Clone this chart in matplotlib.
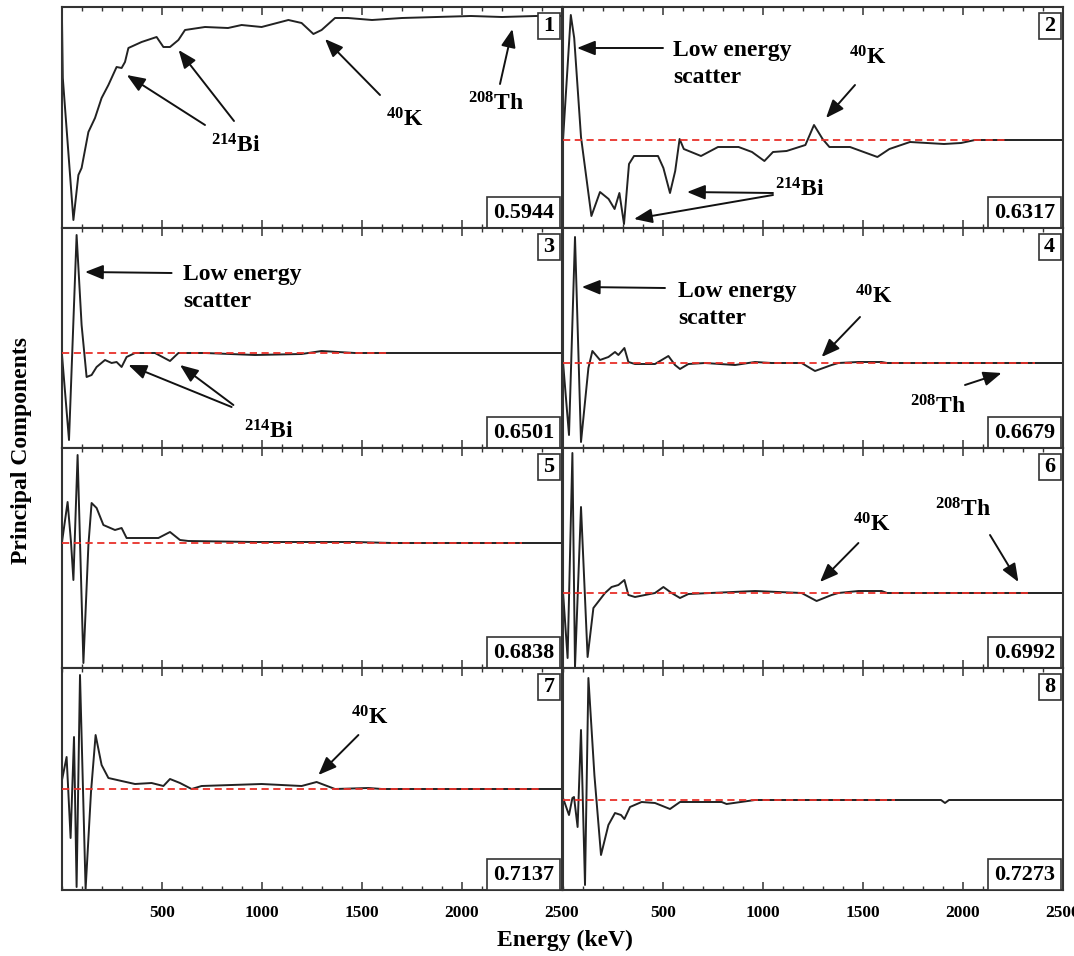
import matplotlib
matplotlib.use("Agg")
import matplotlib.pyplot as plt
from matplotlib.patches import Rectangle
from matplotlib.ticker import MultipleLocator

plt.rcParams['font.family'] = 'Liberation Serif'
plt.rcParams['font.weight'] = 'bold'
plt.rcParams['mathtext.fontset'] = 'custom'
plt.rcParams['mathtext.rm'] = 'Liberation Serif:bold'
plt.rcParams['mathtext.it'] = 'Liberation Serif:bold'
plt.rcParams['mathtext.bf'] = 'Liberation Serif:bold'

# loadings (energy in keV, arbitrary units)
e_pc1 = [0, 4, 57, 82, 98, 132, 165, 198, 232, 273, 298, 315, 332, 398, 473, 507, 540, 582, 615, 715,
         830, 898, 998, 1132, 1198, 1257, 1298, 1365, 1430, 1550, 1700, 2045, 2200, 2370, 2500]
v_pc1 = [208, 150, 8, 53, 60, 96, 110, 130, 143, 161, 160, 166, 180, 186, 191, 181, 181, 188, 198, 201,
         200, 203, 201, 208, 205, 194, 198, 210, 210, 208, 210, 212, 211, 212, 212]

e_pc2 = [0, 39, 56, 90, 142, 185, 228, 258, 282, 305, 330, 355, 475, 502, 535, 561, 583, 604, 690, 775,
         878, 945, 1007, 1050, 1118, 1212, 1255, 1298, 1332, 1435, 1572, 1632, 1735, 1905, 1990, 2060, 2500]
v_pc2 = [0, 125, 102, 3, -76, -52, -59, -69, -53, -84, -24, -16, -16, -28, -53, -31, 1, -9, -16, -7,
         -7, -12, -21, -12, -11, -5, 15, 1, -7, -7, -17, -9, -2, -4, -3, 0, 0]

e_pc3 = [0, 35, 73, 98, 123, 148, 173, 215, 248, 273, 298, 323, 365, 465, 540, 582, 715, 965, 1198,
         1298, 1465, 1630, 2500]
v_pc3 = [-2, -87, 118, 28, -24, -22, -14, -7, -10, -9, -14, -4, 0, 0, -8, 0, 0, -2, -1,
         2, 0, 0, 0]

e_pc4 = [0, 30, 60, 90, 127, 147, 185, 227, 260, 277, 307, 327, 360, 460, 527, 560, 585, 627, 710,
         860, 960, 1043, 1193, 1260, 1343, 1377, 1477, 1593, 1620, 2500]
v_pc4 = [1, -72, 126, -79, -5, 12, 3, 6, 11, 8, 15, 1, -1, -1, 7, -2, -6, -1, 0,
         -2, 1, 0, 0, -8, -2, 0, 1, 1, 0, 0]

e_pc5 = [0, 28, 45, 57, 78, 107, 132, 148, 173, 207, 265, 298, 323, 398, 482, 540, 590, 632, 965,
         1465, 1650, 2500]
v_pc5 = [1, 41, 1, -37, 88, -120, -2, 40, 35, 18, 13, 15, 5, 5, 5, 11, 3, 2, 1,
         1, 0, 0]

e_pc6 = [0, 23, 47, 60, 90, 123, 152, 210, 243, 277, 307, 327, 360, 460, 502, 543, 585, 627, 960,
         1193, 1268, 1343, 1377, 1477, 1593, 1620, 2500]
v_pc6 = [1, -65, 140, -74, 86, -64, -15, 0, 6, 8, 13, -2, -4, 0, 6, 0, -5, -1, 2,
         0, -8, -2, 0, 2, 2, 0, 0]

e_pc7 = [0, 23, 43, 60, 73, 90, 118, 145, 168, 198, 232, 298, 365, 448, 507, 540, 590, 648, 698,
         998, 1198, 1273, 1365, 1532, 1600, 2500]
v_pc7 = [9, 32, -49, 52, -98, 114, -100, -3, 54, 24, 11, 8, 5, 6, 3, 10, 6, 0, 3,
         5, 3, 7, 0, 1, 0, 0]

e_pc8 = [0, 30, 47, 55, 73, 90, 110, 127, 157, 190, 227, 260, 290, 307, 335, 393, 460, 535, 585,
         793, 818, 960, 1890, 1910, 1930, 2500]
v_pc8 = [2, -15, 2, 3, -27, 70, -85, 122, 25, -55, -25, -13, -15, -19, -7, -2, -3, -9, -2,
         -2, -4, 0, 0, -3, 0, 0]

energies = [e_pc1, e_pc2, e_pc3, e_pc4, e_pc5, e_pc6, e_pc7, e_pc8]
loadings = [v_pc1, v_pc2, v_pc3, v_pc4, v_pc5, v_pc6, v_pc7, v_pc8]
pc_numbers = ['1', '2', '3', '4', '5', '6', '7', '8']
pc_scores = ['0.5944', '0.6317', '0.6501', '0.6679', '0.6838', '0.6992', '0.7137', '0.7273']
zero_line_end = [None, 2230, 1630, 2360, 2300, 2325, 2400, 1660]

# vertical range of each panel (same units as the loadings)
ylims = [(0, 221), (-88, 133), (-95, 125), (-85, 135),
         (-125, 95), (-75, 145), (-101, 121), (-90, 132)]

BI = r'$^{214}$Bi'
K40 = r'$^{40}$K'
TH = r'$^{208}$Th'
LES = 'Low energy\nscatter'

# (text, text position, [(arrow start, arrow tip), ...])
notes = [
    [(BI, (868, 82), [((715, 103), (324, 153)), ((860, 107), (583, 178))]),
     (K40, (1715, 108), [((1590, 133), (1315, 189))]),
     (TH, (2170, 124), [((2190, 144), (2252, 199))])],
    [(LES, (550, 76), [((500, 92), (70, 92))]),
     (K40, (1525, 82), [((1460, 55), (1315, 22))]),
     (BI, (1185, -50), [((1050, -53), (620, -52)), ((1050, -55), (355, -79))])],
    [(LES, (605, 65), [((548, 80), (115, 81))]),
     (BI, (1032, -79), [((848, -54), (332, -12)), ((857, -52), (590, -12))])],
    [(LES, (577, 58), [((510, 75), (94, 76))]),
     (K40, (1552, 66), [((1485, 46), (1293, 6))]),
     (TH, (1877, -44), [((2010, -22), (2193, -10))])],
    [],
    [(K40, (1543, 68), [((1477, 50), (1285, 11))]),
     (TH, (2002, 83), [((2135, 58), (2277, 11))])],
    [(K40, (1540, 71), [((1482, 54), (1282, 14))])],
    [],
]

W, H = 1074, 956
fig = plt.figure(figsize=(W / 100, H / 100), dpi=100)
row_edges = [7, 228, 448, 668, 890]
col_left = [62, 563]
col_w = 500

for i in range(8):
    r, c = divmod(i, 2)
    top, bot = row_edges[r], row_edges[r + 1]
    ax = fig.add_axes([col_left[c] / W, 1 - bot / H, col_w / W, (bot - top) / H])
    ax.plot(energies[i], loadings[i], color='#222222', lw=1.4, zorder=2)
    if zero_line_end[i] is not None:
        ax.plot([0, zero_line_end[i]], [0, 0], color='#e8302a', lw=1.3,
                ls=(0, (4, 2.5)), zorder=3)
    ax.set_xlim(0, 2500)
    ax.set_ylim(*ylims[i])
    ax.xaxis.set_major_locator(MultipleLocator(500))
    ax.xaxis.set_minor_locator(MultipleLocator(100))
    ax.set_yticks([])
    ax.tick_params(axis='x', which='both', direction='in', top=True, bottom=True,
                   labelbottom=(r == 3), labelsize=12.5, pad=11, color='#333333')
    ax.tick_params(axis='x', which='major', length=5.5, width=1.1)
    ax.tick_params(axis='x', which='minor', length=3, width=1)
    if r == 3:
        ax.set_xticks([500, 1000, 1500, 2000, 2500])
    for sp in ax.spines.values():
        sp.set_linewidth(1.5)
        sp.set_color('#333333')

    # panel number and score boxes
    ax.add_patch(Rectangle((0.951, 0.855), 0.045, 0.116, transform=ax.transAxes,
                           fc='white', ec='#333333', lw=1.2, zorder=5))
    ax.text(0.9735, 0.913, pc_numbers[i], transform=ax.transAxes, ha='center',
            va='center', fontsize=16, fontweight='bold', zorder=6)
    ax.add_patch(Rectangle((0.850, 0.0), 0.146, 0.140, transform=ax.transAxes,
                           fc='white', ec='#333333', lw=1.2, zorder=5))
    ax.text(0.923, 0.068, pc_scores[i], transform=ax.transAxes, ha='center',
            va='center', fontsize=16, fontweight='bold', zorder=6)

    for label, pos, arrows in notes[i]:
        if label == LES:
            ax.text(pos[0], pos[1], label, ha='left', va='center', fontsize=17,
                    fontweight='bold', linespacing=1.4)
        else:
            ax.text(pos[0], pos[1], label, ha='center', va='center', fontsize=17,
                    fontweight='bold')
        for start, tip in arrows:
            ax.annotate('', xy=tip, xytext=start,
                        arrowprops=dict(arrowstyle='-|>,head_length=0.5,head_width=0.2',
                                        color='#111111', lw=1.4, mutation_scale=22,
                                        shrinkA=0, shrinkB=0))

fig.text(22 / W, 1 - 450 / H, 'Principal Components', rotation=90, ha='center',
         va='center', fontsize=17, fontweight='bold')
fig.text(565 / W, 1 - 940 / H, 'Energy (keV)', ha='center', va='center',
         fontsize=17, fontweight='bold')

fig.savefig('out.png', dpi=100)
